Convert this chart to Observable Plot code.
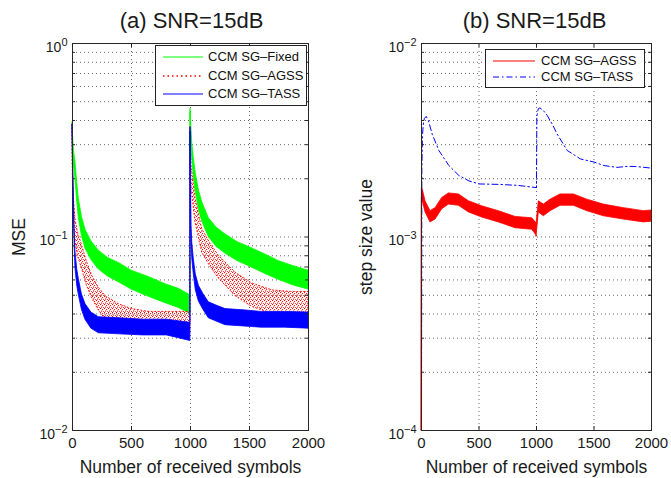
<!DOCTYPE html>
<html><head><meta charset="utf-8">
<script src="https://cdn.jsdelivr.net/npm/d3@7"></script>
<script src="https://cdn.jsdelivr.net/npm/@observablehq/plot@0.6"></script>
<style>
body{margin:0;background:#fff;}
#wrap{position:relative;width:671px;height:478px;font-family:"Liberation Sans",Arial,sans-serif;background:#fff;}
.panel{position:absolute;top:0;}
.legend{position:absolute;background:#fff;border:1px solid #222;box-sizing:border-box;font-size:13px;color:#111;}
.legend .lab{position:absolute;white-space:nowrap;line-height:14px;}
.legend svg{position:absolute;}
</style></head>
<body>
<svg width="0" height="0" style="position:absolute">
  <defs>
    <pattern id="redDots" patternUnits="userSpaceOnUse" width="4" height="4">
      <rect x="0" y="0" width="1.1" height="1.1" fill="#ff0000"/>
      <rect x="2" y="1" width="1.1" height="1.1" fill="#ff2020"/>
      <rect x="1" y="2.5" width="1.1" height="1.1" fill="#ff0000"/>
      <rect x="3" y="3" width="1" height="1" fill="#ff4040"/>
    </pattern>
  </defs>
</svg>
<div id="wrap"></div>
<script>
// ---------- shared axes ----------
const xTicks = [0, 500, 1000, 1500, 2000];
const xLabel = "Number of received symbols";

// ---------- panel (a): MSE ----------
const titleA = "(a) SNR=15dB";
const yLabelA = "MSE";
const yMajorA = [0.01, 0.1, 1];
const yTickLabelsA = ["10^−2", "10^−1", "10^0"];
const legendA = ["CCM SG–Fixed", "CCM SG–AGSS", "CCM SG–TASS"];

const fixedX  = [0, 5, 12, 25, 40, 54, 80, 110, 160, 223, 300, 400, 500, 650, 788, 900, 999,
                 1000, 1005, 1015, 1028, 1045, 1071, 1100, 1155, 1220, 1297, 1400, 1500, 1620, 1750, 1880, 2000];
const fixedLo = [0.37, 0.29, 0.24, 0.20, 0.152, 0.125, 0.101, 0.087, 0.076, 0.068, 0.0625, 0.058, 0.0535, 0.049, 0.0455, 0.043, 0.040,
                 0.44, 0.33, 0.255, 0.205, 0.17, 0.138, 0.12, 0.10, 0.089, 0.082, 0.075, 0.0705, 0.065, 0.060, 0.056, 0.0535];
const fixedHi = [0.39, 0.33, 0.28, 0.245, 0.19, 0.157, 0.127, 0.109, 0.095, 0.085, 0.078, 0.073, 0.067, 0.062, 0.057, 0.054, 0.050,
                 0.46, 0.39, 0.305, 0.255, 0.213, 0.174, 0.151, 0.125, 0.112, 0.103, 0.094, 0.0885, 0.082, 0.075, 0.0705, 0.067];

const agssX  = [0, 3, 8, 15, 25, 45, 82, 120, 167, 220, 280, 390, 500, 650, 850, 999,
                1000, 1004, 1010, 1042, 1099, 1170, 1240, 1381, 1523, 1692, 1850, 2000];
const agssLo = [0.36, 0.20, 0.14, 0.113, 0.094, 0.08, 0.068, 0.0565, 0.048, 0.042, 0.0375, 0.034, 0.032, 0.0315, 0.0315, 0.0315,
                0.35, 0.22, 0.175, 0.119, 0.083, 0.07, 0.061, 0.0495, 0.0435, 0.040, 0.039, 0.039];
const agssHi = [0.38, 0.24, 0.18, 0.15, 0.124, 0.106, 0.09, 0.075, 0.063, 0.055, 0.0495, 0.045, 0.0425, 0.041, 0.041, 0.041,
                0.37, 0.28, 0.23, 0.158, 0.11, 0.092, 0.08, 0.0655, 0.0575, 0.053, 0.052, 0.052];

const tassX  = [0, 4, 11, 18, 25, 40, 54, 80, 110, 160, 223, 400, 600, 800, 999,
                1000, 1003, 1008, 1015, 1028, 1045, 1071, 1110, 1155, 1230, 1297, 1450, 1600, 1800, 2000];
const tassLo = [0.36, 0.235, 0.143, 0.091, 0.069, 0.056, 0.05, 0.042, 0.0373, 0.0336, 0.0318, 0.0314, 0.031, 0.031, 0.029,
                0.35, 0.185, 0.095, 0.077, 0.064, 0.053, 0.0464, 0.042, 0.038, 0.0364, 0.035, 0.0345, 0.034, 0.034, 0.0336];
const tassHi = [0.38, 0.265, 0.168, 0.11, 0.084, 0.068, 0.0605, 0.0505, 0.045, 0.0407, 0.0385, 0.038, 0.0374, 0.0374, 0.036,
                0.37, 0.215, 0.114, 0.093, 0.077, 0.064, 0.056, 0.0506, 0.046, 0.044, 0.0424, 0.0418, 0.041, 0.041, 0.0407];

// ---------- panel (b): step size ----------
const titleB = "(b) SNR=15dB";
const yLabelB = "step size value";
const yMajorB = [0.0001, 0.001, 0.01];
const yTickLabelsB = ["10^−4", "10^−3", "10^−2"];
const legendB = ["CCM SG–AGSS", "CCM SG–TASS"];

const stepAgssX  = [0, 3, 10, 35, 78, 122, 180, 238, 325, 412, 528, 672, 817, 962, 999,
                    1000, 1020, 1064, 1122, 1209, 1325, 1441, 1586, 1760, 1933, 2000];
const stepAgssLo = [0.0001, 0.0016, 0.00154, 0.00134, 0.00119, 0.00123, 0.00139, 0.00147, 0.00145, 0.00134, 0.00126, 0.00119, 0.00111, 0.00109, 0.00102,
                    0.0010, 0.00134, 0.00128, 0.00136, 0.00145, 0.00145, 0.00136, 0.00128, 0.00123, 0.00119, 0.0012];
const stepAgssHi = [0.0001, 0.0018, 0.00177, 0.00153, 0.00136, 0.00141, 0.00159, 0.00168, 0.00166, 0.00153, 0.00144, 0.00136, 0.00127, 0.00125, 0.00118,
                    0.00116, 0.00153, 0.00147, 0.00156, 0.00166, 0.00166, 0.00156, 0.00147, 0.00141, 0.00136, 0.00137];

const stepTassX = [0, 3, 8, 15, 25, 41, 60, 93, 151, 238, 325, 412, 500, 672, 830, 999,
                   1000, 1003, 1015, 1030, 1060, 1093, 1140, 1180, 1267, 1383, 1500, 1586, 1700, 1800, 1875, 2000];
const stepTassY = [0.0001, 0.0022, 0.0033, 0.0038, 0.0041, 0.0042, 0.0040, 0.0034, 0.0028, 0.00234, 0.00208, 0.00195, 0.00188, 0.00187, 0.00185, 0.0018,
                   0.0018, 0.0042, 0.0046, 0.00465, 0.0045, 0.00425, 0.0038, 0.0034, 0.0028, 0.00253, 0.00244, 0.00234, 0.00229, 0.00232, 0.00231, 0.00227];

const GREEN = "#00ff00", RED = "#ff0000", BLUE = "#0000ff";

const H = 478, MT = 43, MB = 48;

function panel({width, marginLeft, marginRight, yDomain, yMajor, yTickLabels, title, titleDx, yLabel, yLabelDx, marks}) {
  const plotW = width - marginLeft - marginRight;
  const plotH = H - MT - MB;
  const minor = d3.scaleLog().domain(yDomain).ticks();
  const chart = Plot.plot({
    width, height: H, marginLeft, marginRight, marginTop: MT, marginBottom: MB,
    x: {domain: [0, 2000]},
    y: {type: "log", domain: yDomain},
    style: {fontFamily: "'Liberation Sans', Arial, sans-serif", color: "#1a1a1a", background: "transparent", overflow: "visible"},
    marks: [
      Plot.gridY(minor, {stroke: "#333", strokeOpacity: 0.75, strokeDasharray: "1,3"}),
      Plot.gridX(xTicks, {stroke: "#333", strokeOpacity: 0.75, strokeDasharray: "1,3"}),
      ...marks,
      Plot.tickY(minor, {y: d => d, insetRight: plotW - 3, stroke: "#262626"}),
      Plot.tickY(minor, {y: d => d, insetLeft: plotW - 3, stroke: "#262626"}),
      Plot.tickX(xTicks, {x: d => d, insetTop: plotH - 4, stroke: "#262626"}),
      Plot.tickX(xTicks, {x: d => d, insetBottom: plotH - 4, stroke: "#262626"}),
      Plot.frame({stroke: "#262626"}),
      Plot.axisX(xTicks, {tickSize: 0, tickPadding: 7, tickFormat: d => String(d), label: null, fontSize: 15}),
      Plot.axisY(yMajor, {tickSize: 0, tickPadding: 5, tickFormat: d => yTickLabels[yMajor.indexOf(d)], label: null, fontSize: 14, dy: 4}),
      Plot.text([title], {text: d => d, frameAnchor: "top", lineAnchor: "middle", textAnchor: "middle", dy: -23, dx: titleDx, fontSize: 22}),
      Plot.text([xLabel], {text: d => d, frameAnchor: "bottom", lineAnchor: "middle", textAnchor: "middle", dy: 37, fontSize: 17.5}),
      Plot.text([yLabel], {text: d => d, frameAnchor: "left", lineAnchor: "middle", textAnchor: "middle", rotate: -90, dx: yLabelDx, fontSize: 17.5})
    ]
  });
  // superscript exponents in the y tick labels
  d3.select(chart).selectAll('g[aria-label="y-axis tick label"] text').each(function() {
    const parts = this.textContent.split("^");
    const t = d3.select(this);
    t.text(null);
    t.append("tspan").text(parts[0]);
    t.append("tspan").attr("dy", "-0.55em").attr("font-size", "11px").text(parts[1]);
  });
  return chart;
}

const chartA = panel({
  width: 335, marginLeft: 72, marginRight: 27,
  yDomain: [0.01, 1], yMajor: yMajorA, yTickLabels: yTickLabelsA,
  title: titleA, titleDx: 1, yLabel: yLabelA, yLabelDx: -53.5,
  marks: [
    Plot.areaY(fixedX, {x: fixedX, y1: fixedLo, y2: fixedHi, fill: GREEN, stroke: GREEN, strokeWidth: 0.8}),
    Plot.areaY(agssX, {x: agssX, y1: agssLo, y2: agssHi, fill: "url(#redDots)", stroke: RED, strokeWidth: 0.9, strokeDasharray: "1,2.5"}),
    Plot.areaY(tassX, {x: tassX, y1: tassLo, y2: tassHi, fill: BLUE, stroke: BLUE, strokeWidth: 0.8})
  ]
});
const chartB = panel({
  width: 336, marginLeft: 86, marginRight: 20,
  yDomain: [0.0001, 0.01], yMajor: yMajorB, yTickLabels: yTickLabelsB,
  title: titleB, titleDx: -2, yLabel: yLabelB, yLabelDx: -55,
  marks: [
    Plot.areaY(stepAgssX, {x: stepAgssX, y1: stepAgssLo, y2: stepAgssHi, fill: RED, stroke: RED, strokeWidth: 0.8}),
    Plot.line(stepTassX, {x: stepTassX, y: stepTassY, stroke: BLUE, strokeWidth: 1, strokeDasharray: "6,3,1.5,3"})
  ]
});

const wrap = document.getElementById("wrap");
chartA.classList.add("panel"); chartA.style.left = "0px";
chartB.classList.add("panel"); chartB.style.left = "335px";
wrap.appendChild(chartA); wrap.appendChild(chartB);

// legends (overlay boxes in the upper-right of each axes)
function legend(box, labels, styles, rowY, lineX, textX) {
  const div = document.createElement("div");
  div.className = "legend";
  Object.assign(div.style, {left: box[0] + "px", top: box[1] + "px", width: box[2] + "px", height: box[3] + "px"});
  labels.forEach((lab, i) => {
    const s = styles[i];
    const svgNS = "http://www.w3.org/2000/svg";
    const svg = document.createElementNS(svgNS, "svg");
    svg.setAttribute("width", lineX[1] - lineX[0]);
    svg.setAttribute("height", 4);
    svg.style.left = lineX[0] + "px";
    svg.style.top = (rowY[i] - 2) + "px";
    const ln = document.createElementNS(svgNS, "line");
    ln.setAttribute("x1", 0); ln.setAttribute("x2", lineX[1] - lineX[0]);
    ln.setAttribute("y1", 2); ln.setAttribute("y2", 2);
    ln.setAttribute("stroke", s.color); ln.setAttribute("stroke-width", s.width || 1.2);
    if (s.dash) ln.setAttribute("stroke-dasharray", s.dash);
    svg.appendChild(ln);
    div.appendChild(svg);
    const sp = document.createElement("span");
    sp.className = "lab";
    sp.textContent = lab;
    sp.style.left = textX + "px";
    sp.style.top = (rowY[i] - 7) + "px";
    div.appendChild(sp);
  });
  wrap.appendChild(div);
}
legend([155, 45, 152, 61], legendA,
  [{color: GREEN}, {color: RED, dash: "1.5,3", width: 1.6}, {color: BLUE}],
  [11, 30, 48], [7, 47], 52);
legend([485, 49, 160, 39], legendB,
  [{color: RED}, {color: BLUE, dash: "6,3,1.5,3", width: 1}],
  [11, 27], [7, 49], 55);
</script></body></html>
